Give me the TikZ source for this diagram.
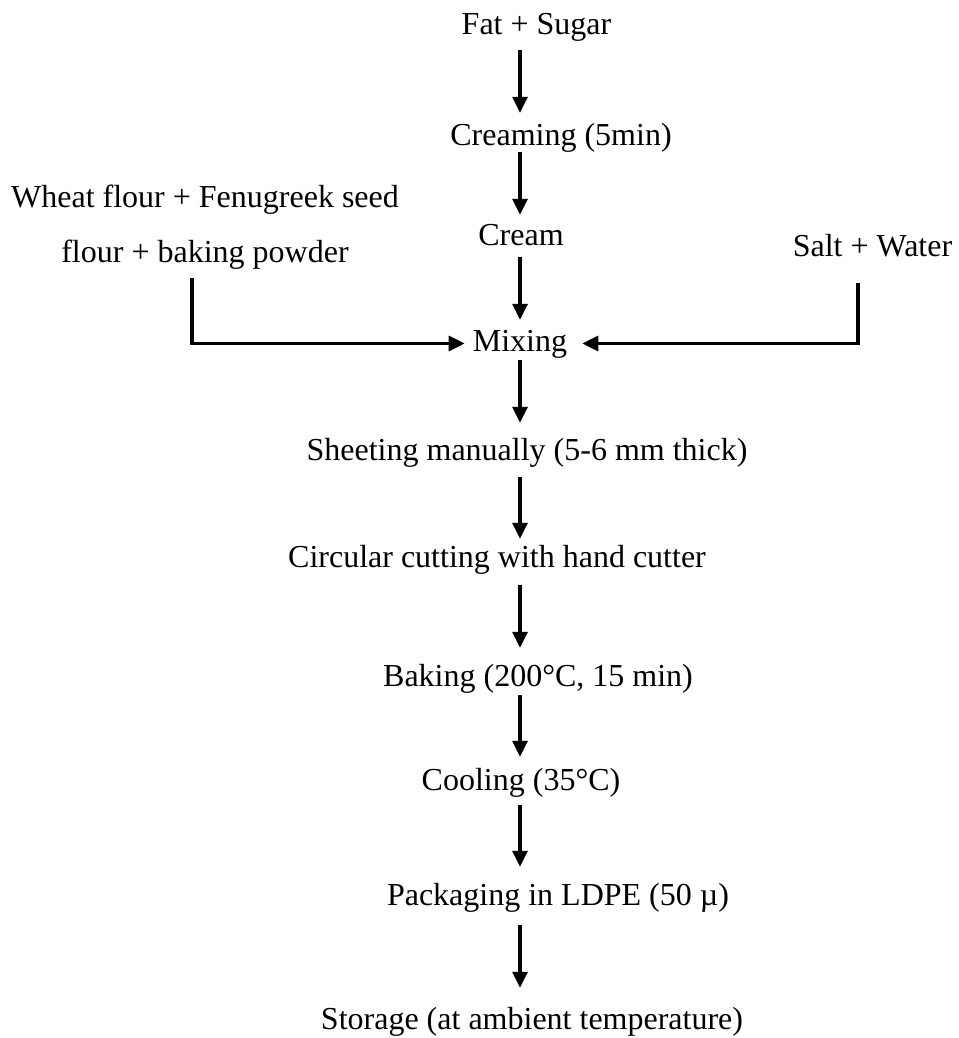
\documentclass[tikz,border=0pt]{standalone}
\usepackage{fontspec}
\setmainfont{Liberation Serif}
\usetikzlibrary{arrows.meta}

\begin{document}
\begin{tikzpicture}[x=1pt, y=-1pt,
	txt/.style={inner sep=0pt, anchor=base, font=\fontsize{32}{55}\selectfont},
	lbl/.style={txt, text height=22pt, text depth=7pt},
	arr/.style={-{Triangle[width=15pt, length=16pt]}, line width=3.2pt}]
	\useasboundingbox (0,0) rectangle (958,1038);

	\node [lbl] (fat)   at (536.5, 35)  {Fat + Sugar};
	\node [lbl] (crm)   at (561, 145)   {Creaming (5min)};
	\node [lbl] (cream) at (521, 245)   {Cream};
	\node [lbl] (mix)   at (520, 351)   {Mixing};
	\node [lbl] (sheet) at (527, 460)   {Sheeting manually (5-6 mm thick)};
	\node [lbl] (cut)   at (497, 567)   {Circular cutting with hand cutter};
	\node [lbl] (bake)  at (538, 686)   {Baking (200°C, 15 min)};
	\node [lbl] (cool)  at (521, 790)   {Cooling (35°C)};
	\node [lbl] (pack)  at (558, 905)   {Packaging in LDPE (50 µ)};
	\node [lbl] (store) at (532, 1029)  {Storage (at ambient temperature)};
	\node [txt, align=center] (flour) at (205, 262) {Wheat flour + Fenugreek seed\\flour + baking powder};
	\node [lbl] (salt)  at (872.5, 256) {Salt + Water};

	\coordinate (col) at (520, 0);
	\coordinate (lc)  at (192, 0);
	\coordinate (rc)  at (858, 0);

	\draw [arr, shorten <=8pt,  shorten >=10pt] (fat.south -| col)   -- (crm.north -| col);
	\draw [arr, shorten <=0pt,  shorten >=8pt]  (crm.south -| col)   -- (cream.north -| col);
	\draw [arr, shorten <=5pt,  shorten >=9pt]  (cream.south -| col) -- (mix.north -| col);
	\draw [arr, shorten <=2pt,  shorten >=15pt] (mix.south -| col)   -- (sheet.north -| col);
	\draw [arr, shorten <=10pt, shorten >=6pt]  (sheet.south -| col) -- (cut.north -| col);
	\draw [arr, shorten <=11pt, shorten >=16pt] (cut.south -| col)   -- (bake.north -| col);
	\draw [arr, shorten <=2pt,  shorten >=11pt] (bake.south -| col)  -- (cool.north -| col);
	\draw [arr, shorten <=8pt,  shorten >=16pt] (cool.south -| col)  -- (pack.north -| col);
	\draw [arr, shorten <=13pt, shorten >=19pt] (pack.south -| col)  -- (store.north -| col);

	\draw [arr, shorten <=9pt,  shorten >=8pt]  (flour.south -| lc) -- (lc |- mix.west) -- (mix.west);
	\draw [arr, shorten <=20pt, shorten >=15pt] (salt.south -| rc)  -- (rc |- mix.east) -- (mix.east);
\end{tikzpicture}
\end{document}
